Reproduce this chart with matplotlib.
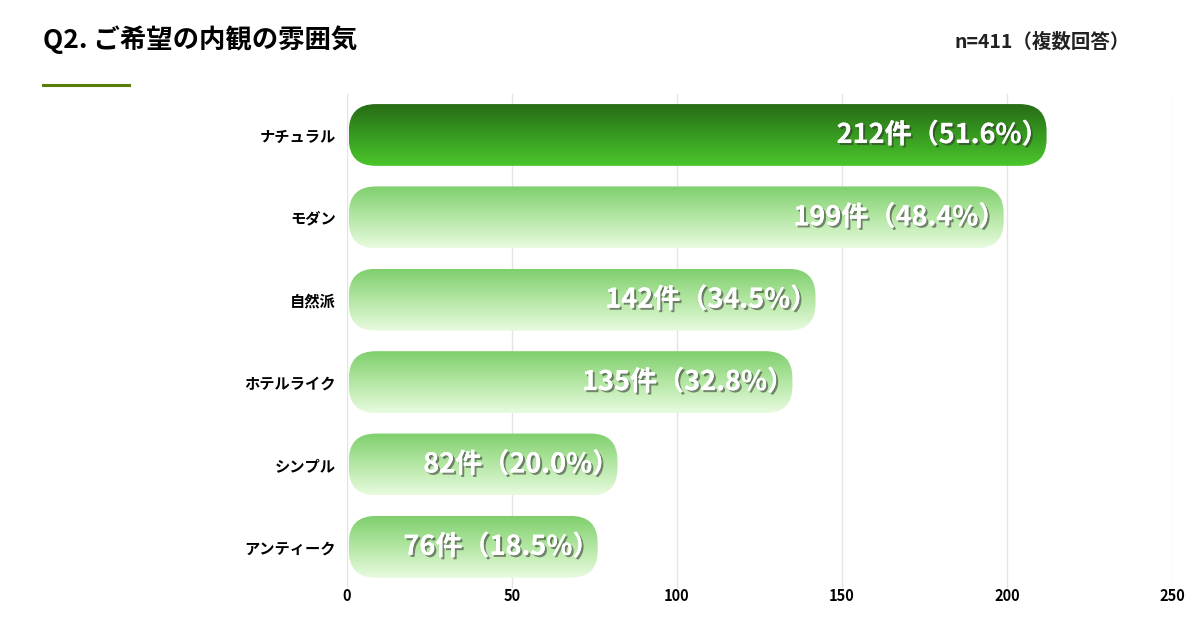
import numpy as np
import matplotlib
matplotlib.use('Agg')
import matplotlib.pyplot as plt
import matplotlib.patheffects as pe
from matplotlib.patches import FancyBboxPatch
from matplotlib.colors import LinearSegmentedColormap

plt.rcParams['font.family'] = ['Noto Sans CJK JP', 'DejaVu Sans']

categories = ['ナチュラル', 'モダン', '自然派', 'ホテルライク', 'シンプル', 'アンティーク']
counts = [212, 199, 142, 135, 82, 76]
percents = [51.6, 48.4, 34.5, 32.8, 20.0, 18.5]
xticks = [0, 50, 100, 150, 200, 250]

title = 'Q2. ご希望の内観の雰囲気'
note = 'n=411（複数回答）'

fig = plt.figure(figsize=(12, 6.24), dpi=100)
ax = fig.add_axes([0.289, 0.0577, 0.6877, 0.792])

y = np.arange(len(categories))
bars = ax.barh(y, counts, height=0.75, alpha=0)
ax.set_xlim(0, 250)
ax.set_ylim(len(categories) - 0.5, -0.5)

# gradients: top colour -> bottom colour
top_cmap = LinearSegmentedColormap.from_list('top', ['#276c15', '#379a21', '#4ac62b'])
rest_cmap = LinearSegmentedColormap.from_list('rest', ['#7fcf6d', '#b4e7a4', '#e8fbdf'])
grad = np.linspace(0, 1, 256).reshape(-1, 1)

# pixel -> data scale for round corners
x_per_px = 250 / (0.6877 * 1200)
y_per_px = 6 / (0.792 * 624)
aspect = y_per_px / x_per_px
radius = 27 * x_per_px

shadow = [pe.withSimplePatchShadow(offset=(1.5, -1.5), shadow_rgbFace='#303030', alpha=0.55),
          pe.Normal()]

for i, rect in enumerate(bars):
    x0, y0 = rect.get_x(), rect.get_y()
    w, h = rect.get_width(), rect.get_height()
    x0 += 2 * x_per_px
    w -= 2 * x_per_px
    clip = FancyBboxPatch((x0, y0), w, h,
                          boxstyle='round,pad=0,rounding_size=%f' % radius,
                          mutation_aspect=aspect, facecolor='none',
                          edgecolor='none', transform=ax.transData)
    ax.add_patch(clip)
    cmap = top_cmap if i == 0 else rest_cmap
    im = ax.imshow(grad, cmap=cmap, aspect='auto', extent=(x0, x0 + w, y0 + h, y0),
                   zorder=2, interpolation='bilinear')
    im.set_clip_path(clip)

    label = '%d件（%.1f%%）' % (counts[i], percents[i])
    ax.annotate(label, xy=(rect.get_width(), rect.get_y() + h / 2),
                xytext=(2, 0), textcoords='offset pixels',
                ha='right', va='center', color='white', fontsize=19.5,
                fontweight='bold', zorder=5, path_effects=shadow)

ax.set_xlim(0, 250)
ax.set_ylim(len(categories) - 0.5, -0.5)
ax.set_xticks(xticks)
ax.set_yticks(y)
ax.set_yticklabels(categories, fontsize=11, fontweight='bold')
ax.tick_params(axis='x', labelsize=10.5, length=0, pad=0)
ax.tick_params(axis='y', length=0, pad=8)
for lab in ax.get_xticklabels():
    lab.set_fontweight('bold')
ax.grid(axis='x', color='#e4e4e4', linewidth=1, zorder=0)
ax.set_axisbelow(True)
for s in ax.spines.values():
    s.set_visible(False)

fig.text(43 / 1200, 1 - 40 / 624, title, fontsize=19, fontweight='bold', va='center', ha='left')
fig.text(1130 / 1200, 1 - 42 / 624, note, fontsize=14, fontweight='bold', va='center', ha='right', color='#222222')
fig.add_artist(plt.Line2D([43 / 1200, 129 / 1200], [1 - 85 / 624, 1 - 85 / 624],
                          color='#5a7d0a', linewidth=2.2, transform=fig.transFigure))

fig.savefig('out.png', dpi=100)
